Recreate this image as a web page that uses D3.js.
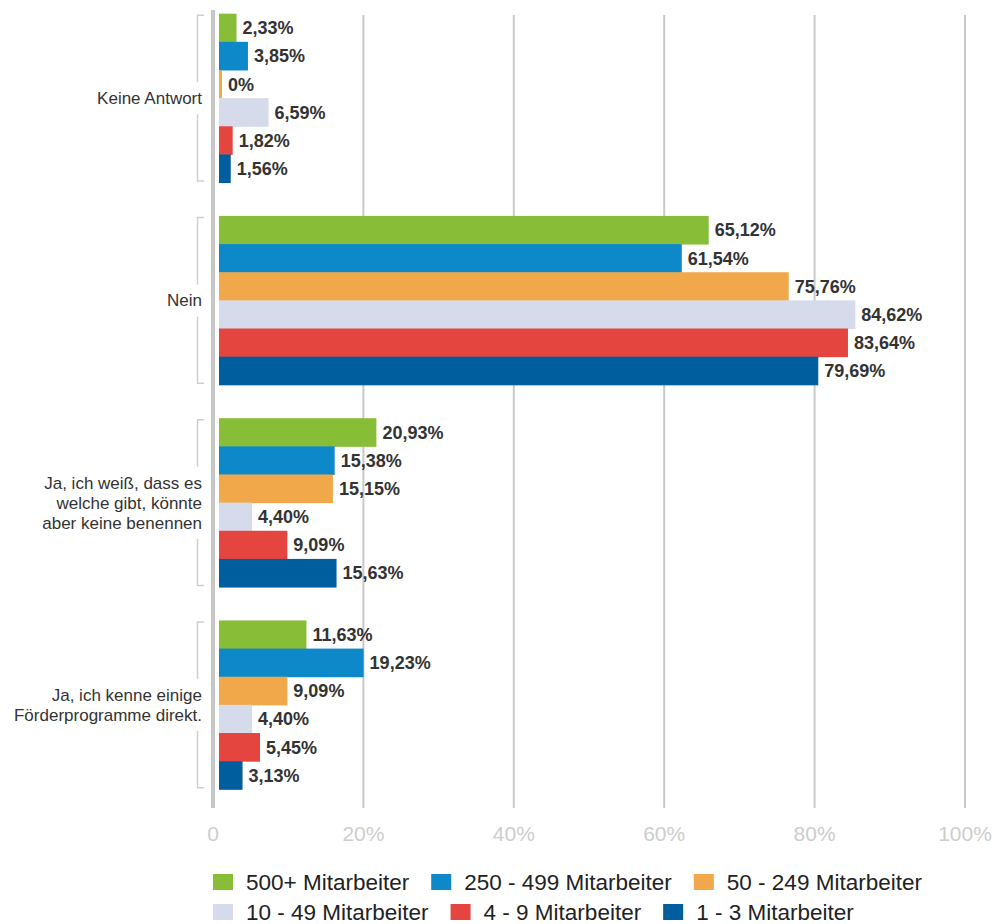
<!DOCTYPE html>
<html lang="de">
<head>
<meta charset="UTF-8">
<title>Förderprogramme</title>
<style>
  body { margin: 0; background: #fff; }
  text { font-family: "Liberation Sans", Arial, sans-serif; }
</style>
</head>
<body>
<svg width="993" height="924"></svg>
<script src="https://cdnjs.cloudflare.com/ajax/libs/d3/7.8.5/d3.min.js"></script>
<script>
// categories, top to bottom
var categories = [
  "Keine Antwort",
  "Nein",
  "Ja, ich weiß, dass es\nwelche gibt, könnte\naber keine benennen",
  "Ja, ich kenne einige\nFörderprogramme direkt."
];

var seriesNames = ["500+ Mitarbeiter", "250 - 499 Mitarbeiter", "50 - 249 Mitarbeiter",
                   "10 - 49 Mitarbeiter", "4 - 9 Mitarbeiter", "1 - 3 Mitarbeiter"];
var seriesColors = ["#88bd37", "#0d88c8", "#f0a84b", "#d6dbeb", "#e4453f", "#015e9e"];

// values per series, in category order
var s500 = [2.33, 65.12, 20.93, 11.63];
var s250 = [3.85, 61.54, 15.38, 19.23];
var s50  = [0, 75.76, 15.15, 9.09];
var s10  = [6.59, 84.62, 4.40, 4.40];
var s4   = [1.82, 83.64, 9.09, 5.45];
var s1   = [1.56, 79.69, 15.63, 3.13];
var seriesValues = [s500, s250, s50, s10, s4, s1];

var ticks = [0, 20, 40, 60, 80, 100];

var svg = d3.select("svg");

var x = d3.scaleLinear().domain([0, 100]).range([213, 965]);
var y = d3.scaleBand().domain(categories).range([-3, 806]).paddingInner(0.165).paddingOuter(0.0825);
var ys = d3.scaleBand().domain(seriesNames).range([0, y.bandwidth()]);

var fmt = function(v) { return v === 0 ? "0%" : v.toFixed(2).replace(".", ",") + "%"; };

// gridlines
svg.append("g").selectAll("line")
  .data(ticks.slice(1))
  .enter().append("line")
  .attr("x1", d => x(d)).attr("x2", d => x(d))
  .attr("y1", 15).attr("y2", 808)
  .attr("stroke", "#c9c9c9").attr("stroke-width", 2);

// axis line
svg.append("line")
  .attr("x1", x(0)).attr("x2", x(0))
  .attr("y1", 10).attr("y2", 808)
  .attr("stroke", "#c6c6c6").attr("stroke-width", 4);

// tick labels
svg.append("g").selectAll("text")
  .data(ticks)
  .enter().append("text")
  .attr("x", d => x(d)).attr("y", 841)
  .attr("text-anchor", "middle")
  .attr("fill", "#cdcdcd")
  .style("font-size", "21px")
  .text(d => d === 0 ? "0" : d + "%");

// rows
var rows = [];
categories.forEach(function(c, ci) {
  seriesNames.forEach(function(s, si) {
    rows.push({cat: c, series: s, color: seriesColors[si], value: seriesValues[si][ci]});
  });
});

var bw = d => Math.max(3, x(d.value) - x(0));

var bars = svg.append("g");
bars.selectAll("rect")
  .data(rows)
  .enter().append("rect")
  .attr("x", x(0) + 6)
  .attr("y", d => y(d.cat) + ys(d.series))
  .attr("width", bw)
  .attr("height", ys.bandwidth() + 0.5)
  .attr("fill", d => d.color);

bars.selectAll("text")
  .data(rows)
  .enter().append("text")
  .attr("x", d => x(0) + 6 + bw(d) + 6)
  .attr("y", d => y(d.cat) + ys(d.series) + ys.bandwidth() / 2)
  .attr("dy", "0.36em")
  .attr("fill", "#333")
  .style("font-size", "18px")
  .style("font-weight", "bold")
  .text(d => fmt(d.value));

// category labels with brackets
var cat = svg.append("g").selectAll("g")
  .data(categories)
  .enter().append("g")
  .attr("transform", d => "translate(0," + y(d) + ")");

cat.each(function(d) {
  var g = d3.select(this);
  var lines = d.split("\n");
  var h = y.bandwidth();
  var lh = 20;
  var mid = h / 2;
  var half = lines.length * lh / 2 + 6;
  var t = g.append("text")
    .attr("text-anchor", "end")
    .attr("fill", "#333")
    .style("font-size", "17px");
  lines.forEach(function(l, i) {
    t.append("tspan")
      .attr("x", 202)
      .attr("y", mid + (i - (lines.length - 1) / 2) * lh)
      .attr("dy", "0.35em")
      .text(l);
  });
  var path = d3.path();
  path.moveTo(204, 1.5); path.lineTo(197.5, 1.5); path.lineTo(197.5, mid - half);
  path.moveTo(197.5, mid + half); path.lineTo(197.5, h - 1.5); path.lineTo(204, h - 1.5);
  g.append("path")
    .attr("d", path.toString())
    .attr("fill", "none")
    .attr("stroke", "#cfcfcf")
    .attr("stroke-width", 1.5);
});

// legend
var legendRows = [[0, 1, 2], [3, 4, 5]];
legendRows.forEach(function(r, ri) {
  var lx = 213;
  var ly = 882 + ri * 30;
  r.forEach(function(si) {
    svg.append("rect")
      .attr("x", lx).attr("y", ly - 8)
      .attr("width", 20).attr("height", 16)
      .attr("fill", seriesColors[si]);
    var t = svg.append("text")
      .attr("x", lx + 33).attr("y", ly)
      .attr("dy", "0.35em")
      .attr("fill", "#222")
      .style("font-size", "22.5px")
      .text(seriesNames[si]);
    lx += 33 + t.node().getComputedTextLength() + 22;
  });
});
</script>
</body>
</html>
